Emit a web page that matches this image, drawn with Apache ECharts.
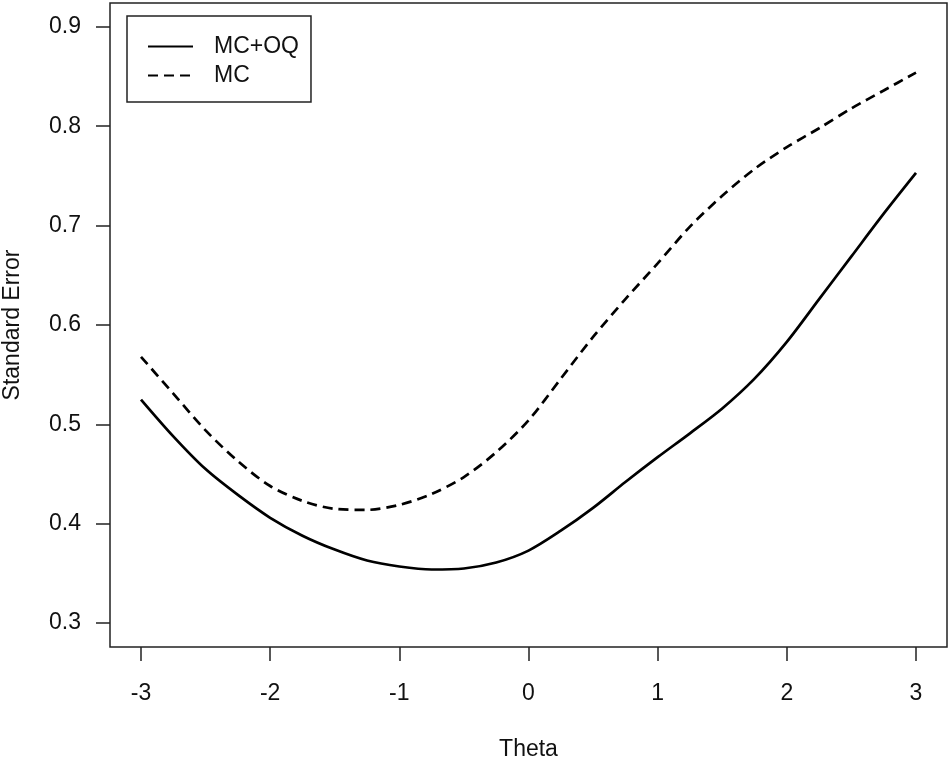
<!DOCTYPE html>
<html>
<head>
<meta charset="utf-8">
<script src="https://cdn.jsdelivr.net/npm/echarts@6/dist/echarts.min.js"></script>
<style>
html,body{margin:0;padding:0;background:#fff;}
#c{width:950px;height:761px;}
</style>
</head>
<body>
<div id="c"></div>
<script>
const theta = [-3,-2.75,-2.5,-2.25,-2,-1.75,-1.5,-1.25,-1,-0.75,-0.5,-0.25,0,0.25,0.5,0.75,1,1.25,1.5,1.75,2,2.25,2.5,2.75,3];
const seMCOQ = [0.525,0.488,0.455,0.429,0.406,0.388,0.374,0.363,0.357,0.354,0.355,0.361,0.373,0.393,0.416,0.442,0.467,0.491,0.516,0.546,0.583,0.626,0.669,0.712,0.753];
const seMC = [0.568,0.531,0.494,0.463,0.438,0.423,0.415,0.414,0.419,0.430,0.447,0.472,0.504,0.546,0.588,0.626,0.662,0.699,0.730,0.757,0.779,0.798,0.818,0.836,0.854];
const xTicks = [-3,-2,-1,0,1,2,3];
const yTicks = [0.3,0.4,0.5,0.6,0.7,0.8,0.9];
const seriesNames = ['MC+OQ','MC'];

const font = '"Liberation Sans", Arial, Helvetica, sans-serif';
const ink = '#111';

const chart = echarts.init(document.getElementById('c'), null, {renderer:'canvas'});
chart.setOption({
  backgroundColor:'#fff',
  animation:false,
  grid:{left:110,right:3,top:3,bottom:114,outerBoundsMode:'none',containLabel:false,show:true,borderColor:'#222',borderWidth:1.5,backgroundColor:'transparent'},
  legend:{
    orient:'vertical',left:127,top:16,
    padding:[19,12,15,20],
    itemWidth:45,itemHeight:22,itemGap:6,
    borderColor:'#222',borderWidth:1.5,
    itemStyle:{opacity:0,borderWidth:0},
    textStyle:{fontFamily:font,fontSize:23,color:ink,lineHeight:22,padding:[0,0,0,16]},
    data:seriesNames
  },
  xAxis:{
    type:'value',min:-3.24,max:3.24,
    name:'Theta',nameLocation:'middle',nameGap:91,
    nameTextStyle:{fontFamily:font,fontSize:23,color:ink},
    axisLine:{show:false,onZero:false},
    splitLine:{show:false},
    axisTick:{show:true,inside:false,length:14,customValues:xTicks,lineStyle:{color:'#222',width:1.5}},
    axisLabel:{fontFamily:font,fontSize:23,color:ink,margin:35,customValues:xTicks,formatter:v=>String(v)}
  },
  yAxis:{
    type:'value',min:0.276,max:0.924,
    name:'Standard Error',nameLocation:'middle',nameGap:86,nameRotate:90,
    nameTextStyle:{fontFamily:font,fontSize:23,color:ink},
    axisLine:{show:false,onZero:false},
    splitLine:{show:false},
    axisTick:{show:true,inside:false,length:14,customValues:yTicks,lineStyle:{color:'#222',width:1.5}},
    axisLabel:{fontFamily:font,fontSize:23,color:ink,margin:29,customValues:yTicks,formatter:v=>v.toFixed(1)}
  },
  series:[
    {name:seriesNames[0],type:'line',smooth:0.3,symbol:'none',
     data:theta.map((t,i)=>[t,seMCOQ[i]]),
     lineStyle:{color:'#000',width:2.7,type:'solid'},itemStyle:{color:'#000'}},
    {name:seriesNames[1],type:'line',smooth:0.3,symbol:'none',
     data:theta.map((t,i)=>[t,seMC[i]]),
     lineStyle:{color:'#000',width:2.7,type:[10,6]},itemStyle:{color:'#000'}}
  ]
});
</script>
</body>
</html>
